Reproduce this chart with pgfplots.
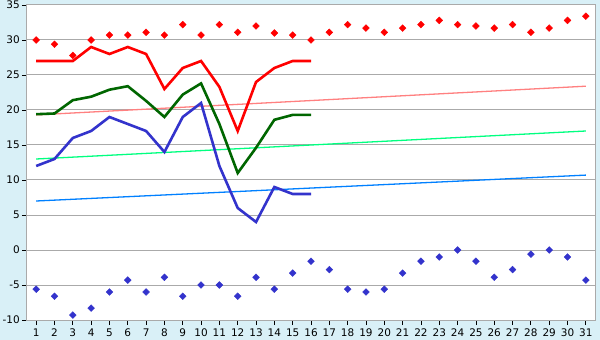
\documentclass[border=0pt]{standalone}
\usepackage{pgfplots}
\pgfplotsset{compat=1.18}
\usepackage{fontspec}
\setmainfont{DejaVu Sans}
\definecolor{bgblue}{HTML}{D9F0F7}
\definecolor{gridgray}{HTML}{AAAAAA}
\definecolor{dgreen}{HTML}{006600}
\definecolor{lblue}{HTML}{3333CC}
\definecolor{pinkt}{HTML}{FF8080}
\definecolor{greent}{HTML}{00FF80}
\definecolor{bluet}{HTML}{0080FF}
\begin{document}
\begin{tikzpicture}
\fill[bgblue] (-27bp,-20bp) rectangle (573bp,320bp);
\begin{axis}[
  scale only axis,
  width=568bp, height=315bp,
  xmin=0.5, xmax=31.5, ymin=-10, ymax=35,
  xtick={1,...,31}, ytick={-10,-5,...,35},
  axis background/.style={fill=white},
  axis line style={gridgray, line width=1bp},
  ymajorgrids, major grid style={gridgray, line width=1bp},
  tick style={black, line width=0.8bp},
  major tick length=5bp,
  tick align=outside,
  xtick pos=bottom, ytick pos=left,
  /pgf/number format/assume math mode=true,
  tick label style={font=\fontsize{10.5}{12}\selectfont},
  yticklabel style={inner sep=1bp, xshift=-1bp},
  xticklabel style={inner sep=1bp, yshift=-2.5bp},
  clip=false,
]
% trend lines
\addplot[pinkt, line width=1.3bp] coordinates {(1,19.3) (31,23.4)};
\addplot[greent, line width=1.3bp] coordinates {(1,13) (31,17)};
\addplot[bluet, line width=1.3bp] coordinates {(1,7) (31,10.7)};
% red line
\addplot[red, line width=2.6bp] coordinates {
(1,27) (2,27) (3,27) (4,29) (5,28) (6,29) (7,28) (8,23) (9,26) (10,27)
(11,23.3) (12,17) (13,24) (14,26) (15,27) (16,27)};
% green line
\addplot[dgreen, line width=2.6bp] coordinates {
(1,19.4) (2,19.5) (3,21.4) (4,21.9) (5,22.9) (6,23.4) (7,21.3) (8,19) (9,22.2) (10,23.8)
(11,18) (12,11) (13,14.6) (14,18.6) (15,19.3) (16,19.3)};
% blue line
\addplot[lblue, line width=2.6bp] coordinates {
(1,12) (2,13) (3,16) (4,17) (5,19) (6,18) (7,17) (8,14) (9,19) (10,21)
(11,12) (12,6) (13,4) (14,9) (15,8) (16,8)};
% red diamonds
\addplot[only marks, mark=square*, mark size=2.4bp, red, mark options={fill=red, rotate=45}] coordinates {
(1,30) (2,29.4) (3,27.8) (4,30) (5,30.7) (6,30.7) (7,31.1) (8,30.7) (9,32.2) (10,30.7)
(11,32.2) (12,31.1) (13,32) (14,31) (15,30.7) (16,30) (17,31.1) (18,32.2) (19,31.7) (20,31.1)
(21,31.7) (22,32.2) (23,32.8) (24,32.2) (25,32) (26,31.7) (27,32.2) (28,31.1) (29,31.7) (30,32.8) (31,33.4)};
% blue diamonds
\addplot[only marks, mark=square*, mark size=2.4bp, lblue, mark options={fill=lblue, rotate=45}] coordinates {
(1,-5.6) (2,-6.6) (3,-9.3) (4,-8.3) (5,-6) (6,-4.3) (7,-6) (8,-3.9) (9,-6.6) (10,-5)
(11,-5) (12,-6.6) (13,-3.9) (14,-5.6) (15,-3.3) (16,-1.6) (17,-2.8) (18,-5.6) (19,-6) (20,-5.6)
(21,-3.3) (22,-1.6) (23,-1) (24,0) (25,-1.6) (26,-3.9) (27,-2.8) (28,-0.6) (29,0) (30,-1) (31,-4.3)};
\end{axis}
\end{tikzpicture}
\end{document}
